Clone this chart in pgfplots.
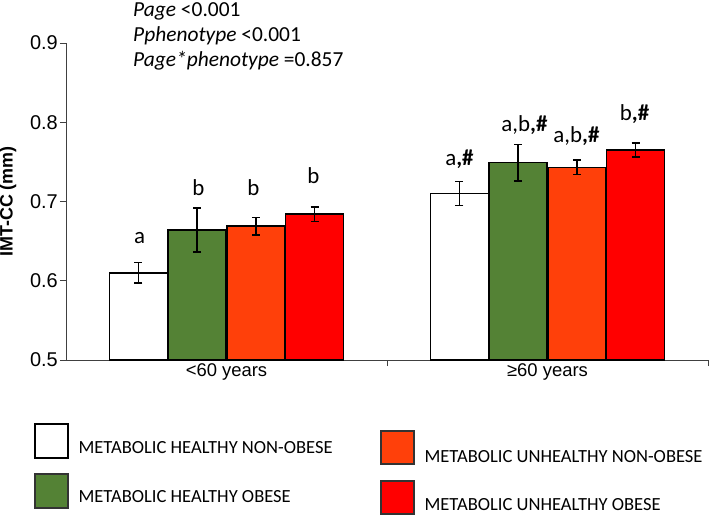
\documentclass[border=0pt]{standalone}
\usepackage{pgfplots}
\pgfplotsset{compat=1.18}
\usepackage{fontspec}
\setmainfont{Carlito}
\newfontfamily\arial{Liberation Sans}
\definecolor{mgreen}{RGB}{84,130,53}
\definecolor{morange}{RGB}{255,64,10}
\definecolor{mred}{RGB}{255,0,0}
\tikzset{lab/.style={font=\fontsize{23}{26}\selectfont, anchor=base, inner sep=0pt}}
\begin{document}
\begin{tikzpicture}
\path[use as bounding box] (-66bp,-155bp) rectangle (643bp,360bp);
\begin{axis}[
  width=642bp, height=317bp, scale only axis,
  xmin=-0.5, xmax=1.5, ymin=0.5, ymax=0.9,
  ybar=0.7bp, bar width=58bp,
  axis x line*=bottom, axis y line*=left,
  axis line style={black!75, line width=0.8bp, -},
  ytick={0.5,0.6,0.7,0.8,0.9},
  yticklabel style={/pgf/number format/fixed, /pgf/number format/fixed zerofill, /pgf/number format/precision=1, inner sep=2bp, font=\arial\fontsize{20}{22}\selectfont},
  tick style={black!75, line width=0.8bp},
  tick align=outside, major tick length=6bp,
  xtick={0.5,1.5}, xticklabels={,,},
  extra x ticks={0,1}, extra x tick labels={<60 years,≥60 years},
  extra x tick style={major tick length=0pt},
  xticklabel style={font=\arial\fontsize{18.5}{20}\selectfont},
  /pgf/number format/assume math mode=true,
  ylabel={IMT-CC (mm)},
  every axis y label/.style={at={(axis description cs:0,0.5)}, xshift=-58bp, rotate=90, anchor=center, font=\arial\bfseries\fontsize{18}{20}\selectfont},
  mybar/.style={draw=black, line width=1.5bp,
    error bars/.cd, y dir=both, y explicit,
    error bar style={line width=1.6bp, black},
    error mark options={rotate=90, mark size=4bp, line width=1.6bp, black},
    /pgfplots/.cd},
]
\addplot[mybar, fill=white] coordinates {(0,0.610) +- (0,0.013) (1,0.710) +- (0,0.015)};
\addplot[mybar, fill=mgreen] coordinates {(0,0.664) +- (0,0.028) (1,0.749) +- (0,0.023)};
\addplot[mybar, fill=morange] coordinates {(0,0.669) +- (0,0.011) (1,0.743) +- (0,0.009)};
\addplot[mybar, fill=mred] coordinates {(0,0.684) +- (0,0.009) (1,0.765) +- (0,0.0085)};
\node[lab] at ([xshift=-87bp]axis cs:0,0.6476) {a};
\node[lab] at ([xshift=-28bp]axis cs:0,0.708) {b};
\node[lab] at ([xshift=27bp]axis cs:0,0.708) {b};
\node[lab] at ([xshift=87bp]axis cs:0,0.7233) {b};
\node[lab] at ([xshift=-88bp]axis cs:1,0.746) {a\textbf{,\#}};
\node[lab] at ([xshift=-23bp]axis cs:1,0.788) {a,b\textbf{,\#}};
\node[lab] at ([xshift=29bp]axis cs:1,0.7747) {a,b\textbf{,\#}};
\node[lab] at ([xshift=87bp]axis cs:1,0.802) {b\textbf{,\#}};
\end{axis}
% p-value annotations
\begin{scope}[every node/.style={anchor=base west, inner sep=0pt, font=\fontsize{21.5}{24}\selectfont}]
\node at (67bp,343.5bp) {\textit{Page} <0.001};
\node at (67bp,318.5bp) {\textit{Pphenotype} <0.001};
\node at (67bp,293bp) {\textit{Page*phenotype} =0.857};
\end{scope}
% legend
\begin{scope}[line width=1.2bp, every node/.style={anchor=base west, inner sep=0pt, font=\fontsize{18.6}{22}\selectfont}]
\draw[fill=white] (-31bp,-64bp) rectangle (2bp,-98bp);
\node at (12bp,-93bp) {METABOLIC HEALTHY NON-OBESE};
\draw[fill=mgreen, draw=black!80] (-31bp,-114bp) rectangle (2bp,-148bp);
\node at (12bp,-142bp) {METABOLIC HEALTHY OBESE};
\draw[fill=morange, draw=black!80] (315bp,-71bp) rectangle (348bp,-104bp);
\node at (358bp,-102bp) {METABOLIC UNHEALTHY NON-OBESE};
\draw[fill=mred, draw=black!80] (315bp,-121bp) rectangle (348bp,-154bp);
\node at (358bp,-150bp) {METABOLIC UNHEALTHY OBESE};
\end{scope}
\end{tikzpicture}
\end{document}
